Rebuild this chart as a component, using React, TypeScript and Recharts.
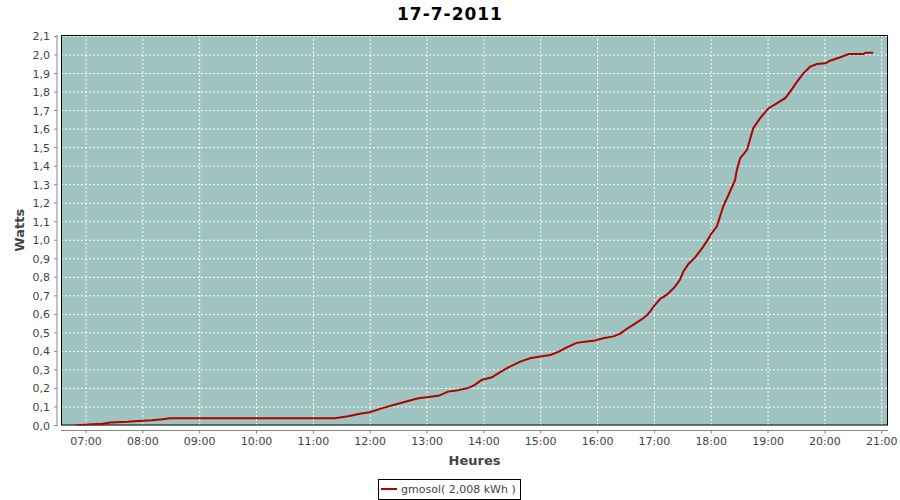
import React from 'react';
import { LineChart, Line, XAxis, YAxis, CartesianGrid, Legend, usePlotArea } from 'recharts';

// Time of day in decimal hours
const hours = [
  6.82, 7.03, 7.29, 7.43, 7.73, 7.85, 8.16, 8.35, 8.47, 11.38,
  11.61, 11.82, 11.99, 12.23, 12.49, 12.73, 12.85, 12.99, 13.2, 13.37,
  13.52, 13.73, 13.84, 13.96, 14.14, 14.28, 14.43, 14.64, 14.81, 14.99,
  15.17, 15.31, 15.46, 15.63, 15.81, 15.93, 16.1, 16.28, 16.4, 16.51,
  16.66, 16.81, 16.89, 17.01, 17.1, 17.22, 17.36, 17.45, 17.51, 17.6,
  17.72, 17.83, 17.92, 18.01, 18.1, 18.21, 18.33, 18.42, 18.45, 18.51,
  18.63, 18.68, 18.74, 18.86, 19.01, 19.16, 19.3, 19.39, 19.51, 19.62,
  19.74, 19.86, 20.01, 20.09, 20.27, 20.42, 20.68, 20.71, 20.85,
];

// Cumulative energy
const energy = [
  0.0, 0.005, 0.01, 0.016, 0.02, 0.023, 0.028, 0.034, 0.039, 0.039,
  0.05, 0.063, 0.072, 0.095, 0.117, 0.138, 0.147, 0.153, 0.16, 0.183,
  0.189, 0.203, 0.219, 0.246, 0.26, 0.287, 0.314, 0.345, 0.363, 0.372,
  0.381, 0.397, 0.422, 0.446, 0.454, 0.457, 0.471, 0.481, 0.496, 0.521,
  0.55, 0.58, 0.602, 0.651, 0.683, 0.706, 0.748, 0.787, 0.832, 0.872,
  0.909, 0.953, 0.994, 1.039, 1.075, 1.182, 1.263, 1.326, 1.38, 1.443,
  1.488, 1.542, 1.605, 1.659, 1.713, 1.74, 1.767, 1.802, 1.856, 1.901,
  1.937, 1.951, 1.955, 1.969, 1.988, 2.005, 2.005, 2.012, 2.012,
];

const xTicks = [7, 8, 9, 10, 11, 12, 13, 14, 15, 16, 17, 18, 19, 20, 21];
const yTicks = [0, 0.1, 0.2, 0.3, 0.4, 0.5, 0.6, 0.7, 0.8, 0.9, 1.0, 1.1, 1.2, 1.3, 1.4, 1.5, 1.6, 1.7, 1.8, 1.9, 2.0, 2.1];

const title = '17-7-2011';
const seriesName = 'gmosol( 2,008 kWh )';
const xLabel = 'Heures';
const yLabel = 'Watts';

const data = hours.map((h, i) => ({ h, v: energy[i] }));

const FONT = '"DejaVu Sans", sans-serif';
const fmtHour = (h: number) => `${String(Math.floor(h)).padStart(2, '0')}:00`;
const fmtVal = (v: number) => v.toFixed(1).replace('.', ',');

const YTick = (props: any) => {
  const { x, y, payload } = props;
  return (
    <g>
      <line x1={x - 4} x2={x - 7} y1={y} y2={y} stroke="#888" />
      <text x={x - 11} y={y} dy={4} textAnchor="end" fontSize={11} fill="#444" fontFamily={FONT}>
        {fmtVal(payload.value)}
      </text>
    </g>
  );
};

const XTick = (props: any) => {
  const { x, y, payload } = props;
  return (
    <g>
      <line x1={x} x2={x} y1={y + 5} y2={y + 8} stroke="#888" />
      <text x={x} y={y + 19} textAnchor="middle" fontSize={11} fill="#444" fontFamily={FONT}>
        {fmtHour(payload.value)}
      </text>
    </g>
  );
};

const Frame = () => {
  const area = usePlotArea();
  if (!area) return null;
  const { x, y, width, height } = area;
  const lx = x - 37;
  const ly = y + height / 2;
  return (
    <g>
      <rect x={x + 0.5} y={y + 0.5} width={width - 1} height={height - 1} fill="none" stroke="#000" />
      <line x1={x - 4} x2={x - 4} y1={y} y2={y + height + 1} stroke="#888" />
      <line x1={x} x2={x + width} y1={y + height + 5} y2={y + height + 5} stroke="#888" />
      <text
        x={lx}
        y={ly}
        transform={`rotate(-90 ${lx} ${ly})`}
        textAnchor="middle"
        fontSize={13}
        fontWeight="bold"
        fill="#444"
        fontFamily={FONT}
      >
        {yLabel}
      </text>
      <text x={x + width / 2} y={y + height + 39} textAnchor="middle" fontSize={13} fontWeight="bold" fill="#444" fontFamily={FONT}>
        {xLabel}
      </text>
    </g>
  );
};

const LegendBox = (props: any) => {
  const item = (props.payload && props.payload[0]) || { value: seriesName, color: '#b00000' };
  return (
    <div
      style={{
        border: '1px solid #000',
        display: 'inline-flex',
        alignItems: 'center',
        height: 19,
        padding: '0 4px 0 2px',
        fontFamily: FONT,
        fontSize: 11,
        color: '#444',
        background: '#fff',
        whiteSpace: 'nowrap',
        boxSizing: 'content-box',
      }}
    >
      <svg width={16} height={4} style={{ display: 'block' }}>
        <line x1={0} y1={2} x2={16} y2={2} stroke={item.color} strokeWidth={2} />
      </svg>
      <span style={{ marginLeft: 4 }}>{item.value}</span>
    </div>
  );
};

export default function App() {
  return (
    <div style={{ position: 'absolute', left: 0, top: 0, width: 900, height: 500, background: '#fff' }}>
      <div
        style={{
          position: 'absolute',
          left: 0,
          top: 4,
          width: 900,
          textAlign: 'center',
          fontFamily: FONT,
          fontWeight: 'bold',
          fontSize: 17,
          letterSpacing: 1,
          color: '#000',
          zIndex: 2,
        }}
      >
        {title}
      </div>
      <LineChart width={900} height={500} data={data} margin={{ top: 35, right: 12, bottom: 27, left: 0 }}>
        <CartesianGrid
          fill="#9EC3C1"
          stroke="#ffffff"
          strokeDasharray="2 2"
          horizontalValues={yTicks}
          verticalValues={xTicks}
        />
        <XAxis
          dataKey="h"
          type="number"
          domain={[6.56, 21.11]}
          ticks={xTicks}
          allowDataOverflow
          axisLine={false}
          tickLine={false}
          tickSize={0}
          tickMargin={0}
          height={25}
          tick={<XTick />}
          interval={0}
        />
        <YAxis
          type="number"
          domain={[0, 2.108]}
          ticks={yTicks}
          allowDataOverflow
          axisLine={false}
          tickLine={false}
          tickSize={0}
          tickMargin={0}
          width={61}
          tick={<YTick />}
          interval={0}
        />
        <Line
          type="linear"
          dataKey="v"
          name={seriesName}
          stroke="#b00000"
          strokeWidth={2}
          dot={false}
          isAnimationActive={false}
        />
        <Frame />
        <Legend
          content={<LegendBox />}
          wrapperStyle={{ position: 'absolute', left: 378, top: 477, width: 'auto', bottom: 'auto' }}
        />
      </LineChart>
    </div>
  );
}
